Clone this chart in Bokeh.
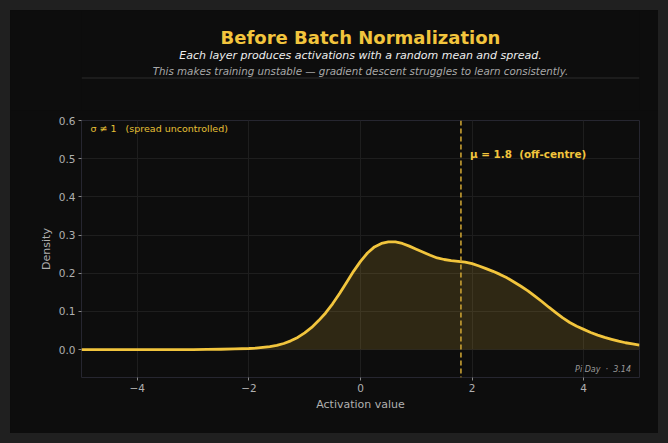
from bokeh.plotting import figure
from bokeh.layouts import column
from bokeh.models import Label, Span, Range1d, FixedTicker
from bokeh.embed import file_html
from bokeh.resources import INLINE

# ---- data ----
activation = [-5.0, -4.75, -4.5, -4.25, -4.0, -3.75, -3.5, -3.25, -3.0, -2.75,
              -2.5, -2.25, -2.0, -1.875, -1.75, -1.625, -1.5, -1.375, -1.25, -1.125,
              -1.0, -0.875, -0.75, -0.625, -0.5, -0.375, -0.25, -0.125, 0.0, 0.125,
              0.25, 0.375, 0.5, 0.625, 0.75, 0.875, 1.0, 1.125, 1.25, 1.375,
              1.5, 1.625, 1.75, 1.875, 2.0, 2.125, 2.25, 2.375, 2.5, 2.625,
              2.75, 2.875, 3.0, 3.125, 3.25, 3.375, 3.5, 3.625, 3.75, 3.875,
              4.0, 4.125, 4.25, 4.375, 4.5, 4.625, 4.75, 4.875, 5.0]
density = [0.0, 0.0, 0.0, 0.0, 0.0, 0.0, 0.0, 0.0, 0.0, 0.0005,
           0.001, 0.002, 0.003, 0.004, 0.006, 0.008, 0.011, 0.016, 0.023, 0.032,
           0.044, 0.058, 0.076, 0.096, 0.120, 0.147, 0.176, 0.205, 0.231, 0.253,
           0.269, 0.278, 0.282, 0.282, 0.278, 0.271, 0.263, 0.255, 0.247, 0.240,
           0.236, 0.233, 0.231, 0.229, 0.225, 0.219, 0.212, 0.205, 0.197, 0.188,
           0.177, 0.166, 0.154, 0.140, 0.126, 0.111, 0.097, 0.083, 0.071, 0.061,
           0.053, 0.045, 0.038, 0.032, 0.027, 0.022, 0.018, 0.015, 0.012]
mean_value = 1.8
x_ticks = [-4, -2, 0, 2, 4]
x_tick_labels = {-4: "\u22124", -2: "\u22122", 0: "0", 2: "2", 4: "4"}
y_ticks = [0.0, 0.1, 0.2, 0.3, 0.4, 0.5, 0.6]

NB = "\u00a0"
title_text = "Before Batch Normalization"
sub1_text = "Each layer produces activations with a random mean and spread."
sub2_text = "This makes training unstable \u2014 gradient descent struggles to learn consistently."
sigma_text = "\u03c3 \u2260 1" + NB * 3 + "(spread uncontrolled)"
mu_text = "\u03bc = 1.8" + NB * 2 + "(off-centre)"
credit_text = "Pi Day" + NB * 2 + "\u00b7" + NB * 2 + "3.14"

FONT = "DejaVu Sans"
YELLOW = "#f2c53d"
PANEL = "#0d0d0d"
LEFT, RIGHT = 71, 19

# ---------- header figure (titles) ----------
top = figure(width=648, height=100, output_backend="svg", toolbar_location=None,
             x_range=Range1d(-5, 5), y_range=Range1d(100, 0),
             x_axis_type=None, y_axis_type=None,
             min_border_left=LEFT, min_border_right=RIGHT, min_border_top=0, min_border_bottom=0)
top.background_fill_color = PANEL
top.border_fill_color = PANEL
top.outline_line_color = None
top.grid.visible = False
top.title.visible = False

top.add_layout(Label(x=0, y=26.6, text=title_text, text_color=YELLOW, text_font=FONT,
                     text_font_size="18px", text_font_style="bold",
                     text_align="center", text_baseline="alphabetic"))
top.add_layout(Label(x=0, y=44.6, text=sub1_text, text_color="#eeeeee", text_font=FONT,
                     text_font_size="11px", text_font_style="italic",
                     text_align="center", text_baseline="alphabetic"))
top.add_layout(Label(x=0, y=60.6, text=sub2_text, text_color="#a8a8a8", text_font=FONT,
                     text_font_size="10.3px", text_font_style="italic",
                     text_align="center", text_baseline="alphabetic"))
top.add_layout(Span(location=67.5, dimension="width", line_color="#2c2c2c", line_width=1))

# ---------- main figure ----------
p = figure(width=648, height=323, output_backend="svg", toolbar_location=None,
           x_range=Range1d(-5, 5), y_range=Range1d(-0.073, 0.6),
           min_border_left=LEFT, min_border_right=RIGHT, min_border_top=10, min_border_bottom=56)
p.background_fill_color = PANEL
p.border_fill_color = PANEL
p.outline_line_color = "#262630"
p.title.visible = False

p.xgrid.grid_line_color = "#1e1e1e"
p.ygrid.grid_line_color = "#1e1e1e"
p.xaxis.ticker = FixedTicker(ticks=x_ticks)
p.yaxis.ticker = FixedTicker(ticks=y_ticks)
p.xaxis.major_label_overrides = x_tick_labels
p.yaxis.major_label_overrides = {t: f"{t:.1f}" for t in y_ticks}

for ax in (p.xaxis, p.yaxis):
    ax.axis_line_color = None
    ax.major_tick_line_color = "#888888"
    ax.major_tick_out = 3
    ax.major_tick_in = 0
    ax.minor_tick_line_color = None
    ax.major_label_text_color = "#b0b0b0"
    ax.major_label_text_font = FONT
    ax.major_label_text_font_size = "10.5px"
    ax.axis_label_text_color = "#b0b0b0"
    ax.axis_label_text_font = FONT
    ax.axis_label_text_font_size = "11px"
    ax.axis_label_text_font_style = "normal"
p.xaxis.axis_label = "Activation value"
p.yaxis.axis_label = "Density"
p.xaxis.major_label_standoff = 3
p.xaxis.axis_label_standoff = 3
p.yaxis.major_label_standoff = 3
p.yaxis.axis_label_standoff = 3

# area + curve
p.varea(x=activation, y1=[0.0] * len(activation), y2=density,
        fill_color=YELLOW, fill_alpha=0.15)
p.line(activation, density, line_color=YELLOW, line_width=2.8, line_join="round")

# mean marker
p.add_layout(Span(location=mean_value, dimension="height", line_color="#c9a032",
                  line_width=1.6, line_dash="5 3"))

p.add_layout(Label(x=mean_value, y=0.513, x_offset=9, text=mu_text,
                   text_color=YELLOW, text_font=FONT, text_font_size="10.4px",
                   text_font_style="bold", text_baseline="middle"))
p.add_layout(Label(x=-5, y=0.6, x_offset=9, y_offset=-7.5, text=sigma_text,
                   text_color="#e6c035", text_font=FONT, text_font_size="9.5px",
                   text_baseline="middle"))
p.add_layout(Label(x=5, y=-0.0524, x_offset=-8.5, text=credit_text,
                   text_color="#9a9a9a", text_font=FONT, text_font_size="8px",
                   text_font_style="italic", text_align="right", text_baseline="middle"))

layout = column(top, p, spacing=0, margin=(10, 10, 10, 10),
                styles={"background-color": PANEL})

html = file_html(layout, INLINE)
html = html.replace("<head>", "<head><style>html,body{background:#202020;margin:0;padding:0;}</style>", 1)
open("out.html", "w").write(html)
